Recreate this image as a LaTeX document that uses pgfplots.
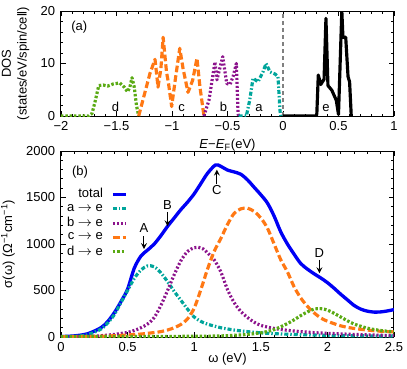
\documentclass[border=0pt]{standalone}
\usepackage{pgfplots}
\pgfplotsset{compat=1.18}
\usepackage{fontspec}
\setmainfont{Liberation Sans}

\definecolor{cTot}{RGB}{0,0,245}
\definecolor{cA}{RGB}{0,165,155}
\definecolor{cB}{RGB}{140,20,140}
\definecolor{cC}{RGB}{255,120,20}
\definecolor{cD}{RGB}{90,170,20}

\pgfplotsset{
  panel/.style={
    scale only axis, width=199.8pt,
    tick align=inside, minor tick num=4,
    major tick length=3pt, minor tick length=1.5pt,
    axis line style={line width=0.6pt},
    every tick/.style={black, line width=0.5pt},
    /pgf/number format/assume math mode=true,
    /pgf/number format/1000 sep={},
  },
  lA/.style={cA, line width=1.9pt, line join=round, dash pattern=on 2.4pt off 1.2pt on 0.9pt off 1.2pt},
  lB/.style={cB, line width=1.9pt, line join=round, dash pattern=on 1.2pt off 1.2pt},
  lC/.style={cC, line width=1.9pt, line join=round, dash pattern=on 4pt off 1.8pt},
  lD/.style={cD, line width=1.9pt, line join=round, dash pattern=on 1.5pt off 1.1pt},
}

\begin{document}
\begin{tikzpicture}[font=\fontsize{7.8}{9.4}\selectfont]
% ---- (a) density of states
\begin{axis}[panel,
    height=63pt,
    xmin=-2, xmax=1, ymin=0, ymax=20,
    xtick={-2,-1.5,...,1},
    xticklabels={−2,−1.5,−1,−0.5,0,0.5,1},
    ytick={0,10,20},
    xlabel={\textit{E}−\textit{E}\textsubscript{F}(eV)},
    ylabel={DOS\\(states/eV/spin/cell)},
    ylabel style={align=center},
    xlabel style={yshift=2pt},
]
\addplot[gray, line width=0.9pt, dash pattern=on 2.4pt off 1.8pt] coordinates {(0,0) (0,20)};
\addplot[lD] coordinates {
  (-2,0) (-1.75,0) (-1.72,0.5) (-1.69,3) (-1.66,5.8) (-1.62,5.9) (-1.58,5.7)
  (-1.53,6.1) (-1.47,6.3) (-1.43,5.5) (-1.40,4.6) (-1.38,5.5) (-1.36,7.3)
  (-1.34,5.5) (-1.32,2) (-1.30,0)};
\addplot[lC] coordinates {
  (-1.30,0) (-1.25,4) (-1.20,8) (-1.153,10.8) (-1.126,5.5) (-1.10,9) (-1.08,15)
  (-1.05,8.5) (-1.03,6) (-1.003,1.8) (-0.97,7) (-0.93,12.9) (-0.90,9) (-0.856,4.5)
  (-0.814,6.8) (-0.775,11) (-0.748,5.5) (-0.712,0)};
\addplot[lB] coordinates {
  (-0.712,0) (-0.667,3) (-0.613,10.3) (-0.595,6.9) (-0.57,9) (-0.543,11.3)
  (-0.507,6.2) (-0.477,6) (-0.45,7.5) (-0.42,10) (-0.405,0.5) (-0.40,0)};
\addplot[lA] coordinates {
  (-0.40,0) (-0.33,0) (-0.30,3) (-0.27,7.2) (-0.225,6.5) (-0.18,8.4) (-0.153,10)
  (-0.117,8.4) (-0.072,8) (-0.045,7.5) (-0.027,1) (-0.02,0)};
\addplot[black, line width=1.9pt, line join=round] coordinates {
  (0,0) (0.30,0) (0.305,0.5) (0.318,7.8) (0.34,6) (0.37,7) (0.387,18.6) (0.405,5.8)
  (0.44,4.9) (0.48,3) (0.50,0.3) (0.53,20) (0.54,15) (0.565,15) (0.586,7.5)
  (0.60,6.5) (0.615,0)};
\node at (axis cs:-1.835,17) {(a)};
\node[anchor=base] at (axis cs:-1.51,0.8) {d};
\node[anchor=base] at (axis cs:-0.913,0.8) {c};
\node[anchor=base] at (axis cs:-0.537,0.8) {b};
\node[anchor=base] at (axis cs:-0.216,0.8) {a};
\node[anchor=base] at (axis cs:0.387,0.8) {e};
\end{axis}

% ---- (b) optical conductivity
\begin{axis}[panel,
    at={(0,-21pt)}, anchor=north west,
    height=111.6pt,
    xmin=0, xmax=2.5, ymin=0, ymax=2000,
    xtick={0,0.5,...,2.5}, ytick={0,500,...,2000},
    xticklabel style={/pgf/number format/fixed},
    xlabel={ω (eV)},
    xlabel style={yshift=6pt},
    ylabel={σ(ω) (Ω\textsuperscript{−1}cm\textsuperscript{−1})},
    legend plot pos=right,
    legend cell align=right,
    legend image code/.code={\draw[#1] (0pt,0pt) -- (7.8pt,0pt);},
    legend style={draw=none, fill=none, inner sep=0pt,
      nodes={inner sep=0.5pt},
      at={(axis description cs:0.201,0.805)}, anchor=north east,
      row sep=1.2pt, /tikz/column sep=4.5pt},
]
\addplot[cTot, line width=2pt, smooth] coordinates {
  (0,5) (0.1,12) (0.2,35) (0.3,100) (0.35,165) (0.4,260) (0.45,380) (0.5,515)
  (0.55,740) (0.6,870) (0.65,935) (0.7,1000) (0.75,1090) (0.8,1190) (0.85,1280)
  (0.9,1370) (0.95,1450) (1.0,1540) (1.05,1650) (1.1,1760) (1.16,1850) (1.2,1835)
  (1.25,1795) (1.3,1775) (1.35,1750) (1.4,1690) (1.45,1610) (1.5,1530) (1.55,1440)
  (1.6,1300) (1.65,1130) (1.7,1000) (1.75,890) (1.8,790) (1.85,730) (1.9,680)
  (1.95,635) (2.0,585) (2.05,525) (2.1,460) (2.15,400) (2.2,340) (2.25,300)
  (2.3,278) (2.35,268) (2.4,270) (2.45,280) (2.5,295)};
\addlegendentry{total}
\addplot[lA, smooth] coordinates {
  (0,2) (0.1,6) (0.2,25) (0.3,85) (0.35,150) (0.4,240) (0.45,370) (0.5,500)
  (0.55,630) (0.6,720) (0.65,765) (0.7,755) (0.75,690) (0.8,595) (0.85,490)
  (0.9,395) (0.95,300) (1.0,215) (1.05,168) (1.1,138) (1.2,100) (1.3,75)
  (1.4,58) (1.5,45) (1.6,36) (1.8,25) (2.0,18) (2.2,14) (2.5,10)};
\addlegendentry{a $\rightarrow$ e}
\addplot[lB, smooth] coordinates {
  (0,1) (0.2,6) (0.3,14) (0.4,28) (0.5,50) (0.55,70) (0.6,100) (0.65,140)
  (0.7,210) (0.75,340) (0.8,500) (0.85,670) (0.9,820) (0.95,920) (1.0,960)
  (1.03,965) (1.07,945) (1.1,905) (1.15,830) (1.2,700) (1.25,510) (1.3,370)
  (1.35,275) (1.4,210) (1.45,160) (1.5,125) (1.6,92) (1.7,72) (1.8,58) (1.9,47)
  (2.0,40) (2.2,28) (2.5,15)};
\addlegendentry{b $\rightarrow$ e}
\addplot[lC, smooth] coordinates {
  (0,2) (0.3,8) (0.5,22) (0.6,32) (0.7,48) (0.75,58) (0.8,75) (0.85,100) (0.9,135)
  (0.95,195) (1.0,310) (1.05,510) (1.1,730) (1.15,920) (1.2,1060) (1.25,1210)
  (1.3,1330) (1.35,1378) (1.4,1385) (1.45,1350) (1.5,1280) (1.55,1170) (1.6,1000)
  (1.65,830) (1.7,700) (1.75,540) (1.8,420) (1.85,330) (1.9,260) (1.95,205)
  (2.0,170) (2.1,120) (2.2,92) (2.3,75) (2.4,62) (2.5,55)};
\addlegendentry{c $\rightarrow$ e}
\addplot[lD, smooth] coordinates {
  (0,5) (0.5,5) (1.0,8) (1.2,12) (1.3,18) (1.4,28) (1.5,45) (1.55,60) (1.6,80)
  (1.65,110) (1.7,145) (1.75,185) (1.8,230) (1.85,270) (1.9,300) (1.95,305)
  (2.0,290) (2.05,255) (2.1,215) (2.15,175) (2.2,140) (2.3,95) (2.4,70) (2.5,55)};
\addlegendentry{d $\rightarrow$ e}
\node at (axis cs:0.143,1777) {(b)};
\node at (axis cs:0.623,1170) {A};
\draw[-stealth, line width=0.6pt] (axis cs:0.623,1085) -- (axis cs:0.623,945);
\node at (axis cs:0.80,1420) {B};
\draw[-stealth, line width=0.6pt] (axis cs:0.80,1345) -- (axis cs:0.80,1190);
\node at (axis cs:1.17,1580) {C};
\draw[-stealth, line width=0.6pt] (axis cs:1.17,1640) -- (axis cs:1.17,1800);
\node at (axis cs:1.94,900) {D};
\draw[-stealth, line width=0.6pt] (axis cs:1.94,830) -- (axis cs:1.94,685);
\end{axis}
\pgfresetboundingbox
\path (-36.6pt,-151.2pt) rectangle (207.6pt,69.6pt);
\end{tikzpicture}
\end{document}
